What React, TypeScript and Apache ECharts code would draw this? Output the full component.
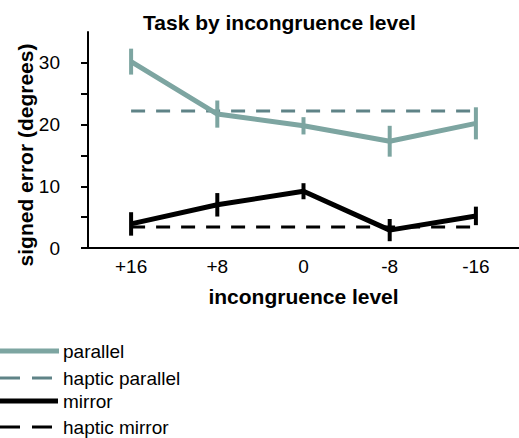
import React, { useEffect, useRef } from "react";
import * as echarts from "echarts";

const categories = ["+16", "+8", "0", "-8", "-16"];
const seriesNames = ["parallel", "haptic parallel", "mirror", "haptic mirror"];
const parallel = [30.2, 21.7, 19.8, 17.3, 20.2];
const parallelErr = [2.1, 2.2, 1.4, 2.5, 2.6];
const mirror = [3.9, 7.0, 9.2, 2.9, 5.2];
const mirrorErr = [1.9, 1.9, 1.3, 1.8, 1.5];
const hapticParallel = [22.2, 22.2, 22.2, 22.2, 22.2];
const hapticMirror = [3.4, 3.4, 3.4, 3.4, 3.4];
const yTickValues = [0, 5, 10, 15, 20, 25, 30];
const yLabelValues = [0, 10, 20, 30];

const TEAL = "#7da5a1";
const TEAL_DARK = "#5f8387";
const BLACK = "#000000";
const FONT = "'Liberation Sans', Arial, Helvetica, sans-serif";

function errorSeries(vals: number[], errs: number[], color: string) {
  return {
    type: "custom",
    silent: true,
    z: 3,
    data: vals.map((v, i) => [i, v - errs[i], v + errs[i]]),
    encode: { x: 0, y: [1, 2] },
    renderItem: (params: any, api: any) => {
      const p1 = api.coord([api.value(0), api.value(1)]);
      const p2 = api.coord([api.value(0), api.value(2)]);
      return {
        type: "line",
        shape: { x1: p1[0], y1: p1[1], x2: p2[0], y2: p2[1] },
        style: { stroke: color, lineWidth: 4 },
      };
    },
  };
}

export default function App() {
  const ref = useRef<HTMLDivElement>(null);
  useEffect(() => {
    document.body.style.margin = "0";
    const chart = echarts.init(ref.current!, null, { renderer: "svg" });
    const legendItems = [
      { name: seriesNames[0], color: TEAL, width: 5, dash: null as any, x2: 59, y: 351 },
      { name: seriesNames[1], color: TEAL_DARK, width: 3, dash: [20, 12], x2: 52, y: 378 },
      { name: seriesNames[2], color: BLACK, width: 5, dash: null as any, x2: 58, y: 401 },
      { name: seriesNames[3], color: BLACK, width: 3, dash: [20, 12], x2: 52, y: 427 },
    ];
    const graphic: any[] = [
      {
        type: "text",
        x: 25,
        y: 155,
        rotation: Math.PI / 2,
        style: {
          text: "signed error (degrees)",
          font: `bold 21px ${FONT}`,
          fill: "#000",
          textAlign: "center",
          textVerticalAlign: "middle",
        },
      },
    ];
    legendItems.forEach((it) => {
      graphic.push({
        type: "line",
        shape: { x1: 0, y1: it.y, x2: it.x2, y2: it.y },
        style: { stroke: it.color, lineWidth: it.width, lineDash: it.dash || undefined },
      });
      graphic.push({
        type: "text",
        x: 63,
        y: it.y,
        style: {
          text: it.name,
          font: `19px ${FONT}`,
          fill: "#000",
          textAlign: "left",
          textVerticalAlign: "middle",
        },
      });
    });

    chart.setOption({
      animation: false,
      backgroundColor: "#ffffff",
      textStyle: { fontFamily: FONT },
      title: {
        text: "Task by incongruence level",
        left: 143,
        top: 12,
        padding: 0,
        textStyle: { fontSize: 21, fontWeight: "bold", color: "#000", fontFamily: FONT },
      },
      grid: { left: 88, right: 0, top: 32, bottom: 190, containLabel: false, outerBoundsMode: "none" },
      xAxis: {
        type: "category",
        data: categories,
        boundaryGap: true,
        axisLine: { show: true, lineStyle: { color: "#000", width: 2 } },
        axisTick: { show: false },
        axisLabel: { fontSize: 19, color: "#000", margin: 9, fontFamily: FONT },
        splitLine: { show: false },
        name: "incongruence level",
        nameLocation: "middle",
        nameGap: 38,
        nameTextStyle: { fontSize: 21, fontWeight: "bold", color: "#000", fontFamily: FONT },
      },
      yAxis: {
        type: "value",
        min: 0,
        max: 35,
        interval: 5,
        axisLine: { show: true, lineStyle: { color: "#000", width: 2 } },
        axisTick: {
          show: true,
          length: 7,
          customValues: yTickValues,
          lineStyle: { color: "#000", width: 2 },
        },
        axisLabel: {
          fontSize: 19,
          color: "#000",
          margin: 28,
          fontFamily: FONT,
          customValues: yLabelValues,
        },
        splitLine: { show: false },
      },
      graphic,
      series: [
        {
          name: seriesNames[1],
          type: "line",
          data: hapticParallel,
          symbol: "none",
          silent: true,
          z: 2,
          lineStyle: { color: TEAL_DARK, width: 3, type: [14, 11] },
        },
        {
          name: seriesNames[3],
          type: "line",
          data: hapticMirror,
          symbol: "none",
          silent: true,
          z: 2,
          lineStyle: { color: BLACK, width: 3, type: [14, 11] },
        },
        {
          name: seriesNames[0],
          type: "line",
          data: parallel,
          symbol: "none",
          silent: true,
          z: 4,
          lineStyle: { color: TEAL, width: 5 },
        },
        {
          name: seriesNames[2],
          type: "line",
          data: mirror,
          symbol: "none",
          silent: true,
          z: 4,
          lineStyle: { color: BLACK, width: 5 },
        },
        errorSeries(parallel, parallelErr, TEAL),
        errorSeries(mirror, mirrorErr, BLACK),
      ],
    });
    return () => chart.dispose();
  }, []);
  return <div ref={ref} style={{ width: 519, height: 438 }} />;
}
